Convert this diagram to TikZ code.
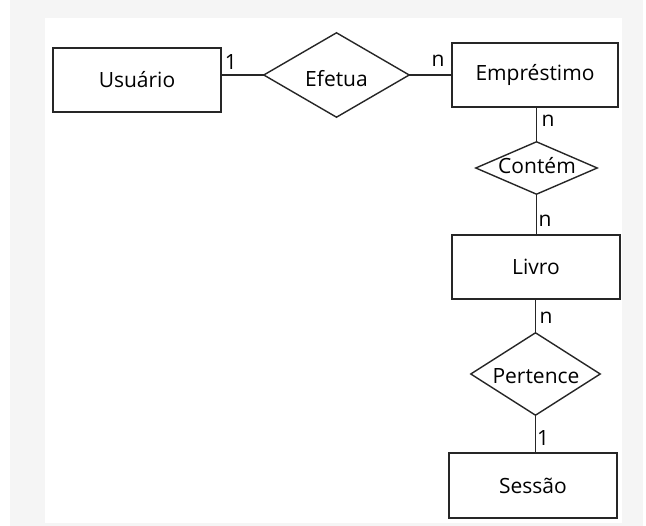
\documentclass[tikz,border=0pt]{standalone}
\usepackage{fontspec}
\setmainfont{Open Sans}
\begin{document}
\begin{tikzpicture}[x=1pt,y=-1pt,
  font=\fontsize{21}{25}\selectfont,
  entity/.style={draw=black!85,line width=1.6pt,fill=white,rectangle,inner sep=0pt,minimum width=168pt,minimum height=64pt},
  relbox/.style={rectangle,inner sep=0pt},
  rel/.style={draw=black!85,line width=1.4pt},
  conn/.style={draw=black!85,line width=1.5pt},
  card/.style={inner sep=0pt,anchor=center}]
\useasboundingbox (0,0) rectangle (646,526);
\fill[black!4] (10,0) rectangle (643,526);
\fill[white] (45,18) rectangle (622,523);
% entities
\node[entity] (U) at (137,80) {Usuário};
\node[entity,minimum width=166pt] (M) at (535,75) {Empréstimo};
\node[entity] (L) at (536,267) {Livro};
\node[entity,minimum height=65pt] (S) at (533,485.5) {Sessão};
% relationships
\node[relbox,minimum width=145pt,minimum height=84pt] (E) at (336.5,75) {};
\node at (336.5,79) {Efetua};
\node[relbox,minimum width=121pt,minimum height=52pt] (C) at (536.5,168) {};
\node at (537,166) {Contém};
\node[relbox,minimum width=129pt,minimum height=82pt] (P) at (535.5,374) {};
\node at (536,376) {Pertence};
\foreach \r in {E,C,P}{
  \draw[rel] (\r.west) -- (\r.north) -- (\r.east) -- (\r.south) -- cycle;
}
% connectors
\draw[conn] (E.west) -- (E.west -| U.east);
\draw[conn] (E.east) -- (E.east -| M.west);
\draw[conn] (C.north) -- (C.north |- M.south);
\draw[conn] (C.south) -- (C.south |- L.north);
\draw[conn] (P.north) -- (P.north |- L.south);
\draw[conn] (P.south) -- (P.south |- S.north);
% cardinalities
\node[card] (c1) at (231,62) {1};
\node[card] (c2) at (438,61) {n};
\node[card] (c3) at (548,121) {n};
\node[card] (c4) at (545,221) {n};
\node[card] (c5) at (546,318) {n};
\node[card] (c6) at (543,438) {1};
\end{tikzpicture}
\end{document}
